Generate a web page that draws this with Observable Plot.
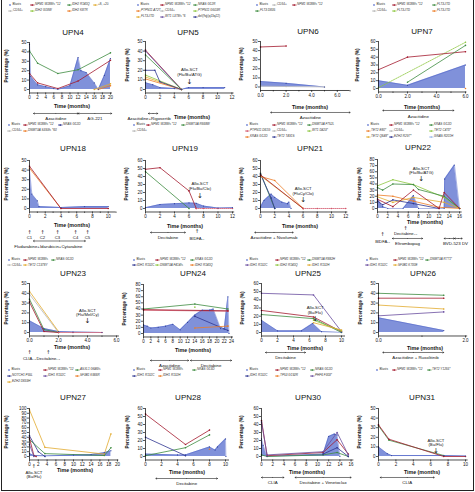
<!DOCTYPE html>
<html><head><meta charset="utf-8">
<script src="https://cdn.jsdelivr.net/npm/d3@7"></script>
<script src="https://cdn.jsdelivr.net/npm/@observablehq/plot@0.6"></script>
<style>
html,body{margin:0;padding:0;background:#fff;}
#fig{position:relative;width:475px;height:492px;overflow:hidden;font-family:"Liberation Sans",Arial,Helvetica,sans-serif;color:#111;}
#frame{position:absolute;left:1px;top:0;width:473px;height:491px;border-left:0.8px solid #222;border-right:0.8px solid #222;border-bottom:0.8px solid #222;box-sizing:border-box;}
.abs{position:absolute;white-space:nowrap;line-height:1;}
.lg{position:absolute;white-space:nowrap;font-size:3.1px;line-height:1;display:flex;align-items:center;color:#333;}
.lg svg{margin-right:0.5px;flex:none;}
</style></head><body><div id="fig"><div id="frame"></div></div>
<script>
const BLUE = "#7285d6";
const COL = {red:"#a31b2f", green:"#3d8b40", lgreen:"#8dc63f", gold:"#e2ab2f", orange:"#ec7c26",
  navy:"#2e3590", purple:"#6a4ea0", gray:"#b8b8b8", lblue:"#9cb8e8", pink:"#d2566a"};
const range = (a,b,s) => { const r=[]; for(let v=a; v<=b+1e-9; v+=s) r.push(+v.toFixed(4)); return r; };

// ---------------- DATA ----------------
// UPN4
const upn4Legend = ["Blasts","NPM1 W288fs *12","IDH2 R140Q","+8, +20","CD34+","IDH2 G18W","IDH2 K87R"];
const upn4Blasts = [[0,48],[0.3,14],[2,5],[4,3],[6,1],[7,0],[10,4],[12,34],[12.7,20],[14,18],[16,7],[17,0],[18.5,15],[20,33]];
const upn4Npm1 = [[0,17],[2,7],[7,1],[12,9],[20,31]];
const upn4Idh2 = [[0,41],[2,28],[7,17],[12,21],[20,39]];
const upn4Trisomy = [[16,0],[20,6]];
const upn4Idh2b = [[17,0],[20,4]];
const upn4Treat = [{label:"Azacitidine",start:1,end:12},{label:"AG-221",start:12,end:20.3}];
// UPN5
const upn5Legend = ["Blasts","NPM1 W288fs *12","NRAS G12R","PTPN11 A72T","CD34+","PTPN11 G503R","FLT3-ITD","WT1 L378fs *6","del(9q)(q13q22)"];
const upn5Blasts = [[0,7],[1,5],[2,2],[4,1],[5,0],[6,2],[8,2],[11,2]];
const upn5Npm1 = [[0,41],[5,0]];
const upn5Wt1 = [[0,40],[5,0]];
const upn5Nras = [[0,36],[5,0]];
const upn5Ptpn11b = [[0,15],[5,0]];
const upn5Flt3 = [[0,13],[5,0]];
const upn5Ptpn11a = [[0,11],[5,0]];
const upn5Del9q = [[0,20],[1.3,20],[2,8],[5,0]];
const upn5Treat = [{label:"Azacitidine+Rigosertib",start:0.4,end:1.7,lx:0.5}];
const upn5Sct = [{label:"Allo-SCT\n(Flu/Bu/ATG)",t:6.1}];
// UPN6
const upn6Legend = ["Blasts","CD34+","NPM1 W288fs *12","FLT3 D835"];
const upn6Blasts = [[0,6],[2,4],[5,0]];
const upn6Npm1 = [[0,44],[2,45]];
const upn6Cd34 = [[0,1],[2,0.5],[5,0]];
const upn6Treat = [{label:"Azacitidine",start:0.8,end:7}];
// UPN7
const upn7Legend = ["Blasts","NPM1 W288fs *12","FLT3-ITD","CD34+","FLT3-ITD","FLT3-ITD"];
const upn7Blasts = [[0,10],[2,4],[6,30]];
const upn7Npm1 = [[0,24],[2,40],[6,47]];
const upn7Flt3a = [[2,8],[6,55]];
const upn7Flt3b = [[0,1],[6,59]];
const upn7Flt3c = [[6,0]];
const upn7Treat = [{label:"Azacitidine",start:0.3,end:5.2}];
// UPN18
const upn18Legend = ["Blasts","NPM1 W288fs *12","NRAS G12D","CD34+","DNMT3A S393fs *60"];
const upn18Blasts = [[0,40],[0.3,15],[1,8],[1.2,2],[4,1],[7,2],[10,2]];
const upn18Npm1 = [[0,44],[4,0],[10,0]];
const upn18Dnmt3a = [[0,42],[4,0]];
const upn18Cycles = [{label:"C1",t:0},{label:"C2",t:1.65},{label:"C3",t:3.56},{label:"C4",t:5.85},{label:"C5",t:7.37}];
const upn18Treat = [{label:"Fludarabine+Idarubicin+Cytarabine",start:0.5,end:7.1,lx:2.4}];
// UPN19
const upn19Legend = ["Blasts","NPM1 W288fs *12","DNMT3A R668W","CD34+"];
const upn19Blasts = [[0,1],[2,5],[4,6],[6,7],[7,6.5],[8,3],[10,0.5],[12,1]];
const upn19Npm1 = [[0,49],[2,51],[6,22],[7,0]];
const upn19Post = [[7,0],[8,0],[10,0],[12,0]];
const upn19Dnmt3a = [[0,46],[6,0]];
const upn19Sct = [{label:"Allo-SCT\n(Flu/Bu/Clo)",t:7.5}];
const upn19Treat = [{label:"Decitabine",start:0.7,end:5.5}];
const upn19Events = [{label:"BIDFA₁₁",t:7.1}];
// UPN21
const upn21Legend = ["Blasts","NPM1 W288fs *12","DNMT3A F752L","PTPN11 D61G","CD34+","WT1 D423*","KRAS G12D","TET2 T491S"];
const upn21Blasts = [[0,2],[0.5,10],[1.5,18],[2,14],[3,8],[3.8,6],[4,8],[4.3,0]];
const upn21Npm1 = [[0,42],[6,0]];
const upn21Dnmt3a = [[0,44],[2,0]];
const upn21Kras = [[0,40],[2,35],[6,0]];
const upn21Ptpn11 = [[0,41],[6,0]];
const upn21Tet2 = [[0,43],[1.5,13],[2,0]];
const upn21Post = [[6,0],[8,0],[10,0],[12,0]];
const upn21Sct = [{label:"Allo-SCT\n(FluCy/Clo)",t:6}];
const upn21Treat = [{label:"Azacitidine + Nivolumab",start:-0.8,end:4.6}];
// UPN22
const upn22Legend = ["Blasts","NPM1 W288fs *12","KRAS G12D","TET2 E80*","CD34+","TET2 C470*","TET2 Q648*","EZH2 R297*","GNAS R201H"];
const upn22Blasts = [[0,16],[1,3],[2,0],[5,0],[7,21],[8,0],[13,0],[13.1,48],[15,71],[16,0]];
const upn22Npm1 = [[0,15],[3,3],[7,30],[12,0],[13,26],[16,0]];
const upn22Kras = [[0,34],[1,30],[3,40],[7,39],[8,31],[13,20],[16,0]];
const upn22Tet2c = [[0,37],[3,47],[7,39],[13,18],[16,0]];
const upn22Tet2e = [[0,22],[3,20],[7,12],[12,2],[16,0]];
const upn22Tet2q = [[0,19],[3,10],[7,18],[13,10],[16,0]];
const upn22Ezh2 = [[0,12],[1,6],[3,14],[7,8],[12,0]];
const upn22Sct = [{label:"Allo-SCT\n(Flu/Bu/ATG)",t:8.5}];
const upn22Events = [{label:"BIDFA₁₁",t:1},{label:"Decitabine₁₋₁",t:5.5}];
const upn22Treat = [{label:"Eltrombopag",start:2.9,end:8.8},{label:"BVD-523 DV",start:13,end:15,lx:15.2},{label:"",start:15,end:16.5}];
// UPN23
const upn23Legend = ["Blasts","NPM1 W288fs","NRAS G12D","CD34+","TET2 C1378Y"];
const upn23Blasts = [[0,12],[1,4],[2,1],[3,0.5],[5,0]];
const upn23Tet2 = [[0,42],[2,1]];
const upn23Cd34 = [[0,39],[2,0]];
const upn23Nras = [[0,34],[1,3],[2,0]];
const upn23Npm1 = [[0,31],[1,1],[2,0]];
const upn23Post = [[2,0],[3,0],[5,0]];
const upn23Sct = [{label:"Allo-SCT\n(Flu/Mel/Cy)",t:4}];
const upn23Events = [{label:"CLIA₁₋₁",t:0},{label:"Decitabine₁₋₁",t:1.3}];
// UPN24
const upn24Legend = ["Blasts","NPM1 W288fs *12","KRAS G12D","IDH1 R132C","DNMT3A F414fs","IDH2 R140Q"];
const upn24Blasts = [[0,14],[1,12],[2,9],[4,10],[6,12],[8,15],[10,6],[12,18],[14,30],[16,38],[18,38],[19,40],[21,8],[22,7],[23,60],[23.3,0]];
const upn24Kras = [[0,40],[14,48],[23,40]];
const upn24Npm1 = [[0,39],[23,37]];
const upn24Npm1b = [[0,38],[23,36.5]];
const upn24Idh1 = [[14,28],[23,5]];
const upn24Idh2 = [[14,9],[23,12]];
const upn24Dnmt3a = [[14,43]];
const upn24Treat = [{label:"Azacitidine",start:1.9,end:12.3},{label:"Decitabine",start:12.8,end:24}];
// UPN25
const upn25Legend = ["Blasts","NPM1 W288fs *12","DNMT3A R882H","IDH1 R132C","IDH2 R140Q","IDH1 R132H"];
const upn25Blasts = [[0,15],[2,2],[5,2],[6.4,11],[7.5,1],[10,0]];
const upn25Idh1 = [[0,48],[6.5,46],[10,1]];
const upn25Npm1 = [[0,27],[6.5,19],[10,1]];
const upn25Dnmt3a = [[0,22],[6.5,17],[10,0]];
const upn25Idh2 = [[6.5,15],[10,2]];
const upn25Idh1b = [[6.5,12],[10,3]];
const upn25Sct = [{label:"Allo-SCT\n(Bu/Flu)",t:6.7}];
const upn25Treat = [{label:"Decitabine",start:0.5,end:5.5}];
// UPN26
const upn26Legend = ["Blasts","NPM1 W288fs *12","DNMT3A R771*","IDH1 R132C","SF3B1 K700E"];
const upn26Blasts = [[0,15],[1.5,2]];
const upn26Dnmt3a = [[0,40],[1.5,38]];
const upn26Npm1 = [[0,35],[1.5,35]];
const upn26Sf3b1 = [[0,28],[1.5,24]];
const upn26Idh1 = [[0,17],[1.5,21]];
const upn26Treat = [{label:"Azacitidine + Ruxolitinib",start:0.1,end:1.5,lx:0.85}];
// UPN27
const upn27Legend = ["Blasts","NPM1 W288fs *12","ASXL1 G646fs","NOTCH1 P55L","IDH1 R132C","SF3B1 K666R","EZH2 D659H"];
const upn27Blasts = [[0,6],[1,2],[3.5,1],[10,3],[14,4],[17,8],[18.5,12]];
const upn27Ezh2 = [[0,97],[3.5,19],[17,5],[18.5,47]];
const upn27Notch1 = [[0,43],[2,10],[3.5,0]];
const upn27Asxl1 = [[0,35],[3.5,6],[17,2],[18.5,18]];
const upn27Npm1 = [[0,38],[1,2],[1.5,0]];
const upn27Idh1 = [[0,25],[1,0]];
const upn27Events = [{label:"Allo-SCT\n(Bu/Flu)",t:1}];
// UPN28
const upn28Legend = ["Blasts","NPM1 W288fs","NRAS G13D","IDH1 R132C","IDH1 R132H"];
const upn28Blasts = [[0,3],[4,2],[5,2],[8,12],[8.7,8],[9,12],[10,22],[10.05,0]];
const upn28Npm1 = [[0,53],[5,15],[8,33]];
const upn28Nras = [[0,1],[5,11],[8,27]];
const upn28Idh1 = [[0,24],[5,1]];
const upn28Idh1b = [[8,9]];
const upn28Treat = [{label:"Decitabine",start:1.3,end:9}];
// UPN30
const upn30Legend = ["Blasts","NPM1 W288fs *12","NRAS G12D","IDH1 R132C","TP53 G192R","PHF6 F303*"];
const upn30Blasts = [[0,22],[0.3,14],[1,0],[11,3],[12,25],[13,28],[13.5,27],[14,0]];
const upn30Npm1 = [[0,45],[1,1],[11,5],[13.5,21],[15.5,3]];
const upn30Phf6 = [[0,43],[1,2],[11,6],[13.5,30],[15.5,2]];
const upn30Idh1 = [[11,3],[13.5,11],[15.5,0]];
const upn30Nras = [[0,2],[1,0],[11,2],[13.5,5],[15.5,0]];
const upn30Treat = [{label:"CLIA",start:0,end:4},{label:"Decitabine + Venetoclax",start:6,end:16}];
// UPN31
const upn31Legend = ["Blasts","NPM1 W288fs *12","TET2 Y1255*"];
const upn31Blasts = [[0,10],[1,3],[1.5,1],[7.5,1],[10,0.5]];
const upn31Npm1 = [[0,33],[1.2,18],[7.5,0],[10,0]];
const upn31Tet2 = [[0,32],[1.2,17],[7.5,1]];
const upn31Sct = [{label:"Allo-SCT\n(Bu/Flu)",t:6.6}];
const upn31Treat = [{label:"CLIA",start:0.2,end:6.4}];

// ---------------- LAYOUT ----------------
const panels = [
 {title:"UPN4", x0:29,k:4.05,xEnd:20.5,yBot:89,yTop:42,yMax:50,xTicks:range(0,20,2),yTicks:range(0,50,10),
  tx:73,ty:33,ylx:7,timeX:72,timeY:106,lgCols:[8,30,67,93],lgY:5,lgDy:6,legend:upn4Legend,
  lgColors:[BLUE,COL.red,COL.green,COL.gold,COL.gray,COL.lgreen,COL.orange],blasts:upn4Blasts,
  series:[{d:upn4Idh2,c:COL.green},{d:upn4Npm1,c:COL.red},{d:upn4Trisomy,c:COL.gold},{d:upn4Idh2b,c:COL.orange}],
  treat:upn4Treat,treatY:113,treatLY:118},
 {title:"UPN5", x0:145,k:7.2,xEnd:12.3,yBot:89,yTop:41,yMax:50,xTicks:range(0,12,2),yTicks:range(0,50,10),
  tx:188,ty:33,ylx:128,timeX:192,timeY:117,lgCols:[136,160,193],lgY:5,lgDy:6,legend:upn5Legend,
  lgColors:[BLUE,COL.red,COL.green,COL.orange,COL.gray,COL.lgreen,COL.gold,COL.purple,COL.navy],blasts:upn5Blasts,
  series:[{d:upn5Npm1,c:COL.red},{d:upn5Wt1,c:COL.purple},{d:upn5Nras,c:COL.green},{d:upn5Ptpn11b,c:COL.lgreen},
   {d:upn5Flt3,c:COL.gold},{d:upn5Ptpn11a,c:COL.orange},{d:upn5Del9q,c:COL.navy}],
  treat:upn5Treat,treatY:113,treatLY:118,sct:upn5Sct,sctLY:71.5,sctAY:81},
 {title:"UPN6", x0:260,k:12.8,xEnd:7,yBot:86.5,yTop:41,yMax:50,xTicks:[0,2,4,6],xMinor:[1,3,5,7],yTicks:range(0,50,10),
  tx:308,ty:32,ylx:242,timeX:310,timeY:107,lgCols:[255,272,292],lgY:5,lgDy:6,legend:upn6Legend,
  lgColors:[BLUE,COL.gray,COL.red,COL.green],blasts:upn6Blasts,
  series:[{d:upn6Cd34,c:COL.gray,dash:"1,1"},{d:upn6Npm1,c:COL.red}],
  treat:upn6Treat,treatY:112,treatLY:117.5},
 {title:"UPN7", x0:378,k:14.5,xEnd:6.1,yBot:88,yTop:41,yMax:60,xTicks:[0,2,4,6],xMinor:[1,3,5],yTicks:range(0,60,10),
  tx:422,ty:32,ylx:358,timeX:422,timeY:107,lgCols:[372,392,432],lgY:5,lgDy:6,legend:upn7Legend,
  lgColors:[BLUE,COL.red,COL.green,COL.gray,COL.lgreen,COL.orange],blasts:upn7Blasts,
  series:[{d:upn7Flt3b,c:COL.lgreen,dash:"1,1"},{d:upn7Npm1,c:COL.red},{d:upn7Flt3a,c:COL.green},{d:upn7Flt3c,c:COL.orange}],
  treat:upn7Treat,treatY:110,treatLY:116},

 {title:"UPN18", x0:29,k:7.87,xEnd:11,yBot:208,yTop:160,yMax:50,xTicks:range(0,10,2),xMinor:[1,3,5,7,9,11],yTicks:range(0,50,10),
  tx:73,ty:149,ylx:7,timeX:72,timeY:224.5,lgCols:[7,23,58],lgY:125,lgDy:6,legend:upn18Legend,
  lgColors:[BLUE,COL.red,COL.navy,COL.gray,COL.orange],blasts:upn18Blasts,
  series:[{d:upn18Dnmt3a,c:COL.orange},{d:upn18Npm1,c:COL.red}],
  events:upn18Cycles,evArrowY:231.5,evLabelY:236.8,
  treat:upn18Treat,treatY:240.5,treatLY:246},
 {title:"UPN19", x0:145,k:7.25,xEnd:12.3,yBot:208,yTop:160,yMax:60,xTicks:range(0,12,2),yTicks:range(0,60,10),
  tx:185,ty:149,ylx:127,timeX:185,timeY:226,lgCols:[132,146,181],lgY:125,lgDy:6,legend:upn19Legend,
  lgColors:[BLUE,COL.red,COL.green,COL.gray],blasts:upn19Blasts,
  series:[{d:upn19Dnmt3a,c:COL.green},{d:upn19Npm1,c:COL.red},{d:upn19Post,c:COL.pink,dash:"1,1"}],
  sct:upn19Sct,sctLY:185.5,sctAY:195,
  treat:upn19Treat,treatY:232,treatLY:237.5,events:upn19Events,evArrowY:231,evLabelY:238.5},
 {title:"UPN21", x0:260,k:7.1,xEnd:12.3,yBot:208,yTop:160,yMax:60,xTicks:range(0,12,2),yTicks:range(0,60,10),
  tx:310,ty:149,ylx:242,timeX:300,timeY:226,lgCols:[245,272,307],lgY:125,lgDy:6,legend:upn21Legend,
  lgColors:[BLUE,COL.red,COL.green,COL.pink,COL.gray,COL.lgreen,COL.orange,COL.navy],blasts:upn21Blasts,
  series:[{d:upn21Dnmt3a,c:COL.green},{d:upn21Tet2,c:COL.navy},{d:upn21Ptpn11,c:COL.gold},{d:upn21Kras,c:COL.orange},
   {d:upn21Npm1,c:COL.red},{d:upn21Post,c:COL.pink,dash:"1,1"}],
  sct:upn21Sct,sctLY:190.5,sctAY:199,
  treat:upn21Treat,treatY:232,treatLY:237.5},
 {title:"UPN22", x0:377,k:5.13,xEnd:16.5,yBot:208,yTop:159,yMax:80,xTicks:range(0,16,2),yTicks:range(0,80,10),
  tx:418,ty:148,ylx:360,timeX:425,timeY:222,lgCols:[366,389,429],lgY:125,lgDy:6,legend:upn22Legend,
  lgColors:[BLUE,COL.red,COL.green,COL.orange,COL.gray,COL.lgreen,COL.gold,COL.navy,COL.lblue],blasts:upn22Blasts,
  series:[{d:upn22Tet2c,c:COL.lgreen},{d:upn22Kras,c:COL.green},{d:upn22Tet2e,c:COL.orange},{d:upn22Tet2q,c:COL.gold},
   {d:upn22Ezh2,c:COL.navy},{d:upn22Npm1,c:COL.red}],
  sct:upn22Sct,sctLY:170,sctAY:178.5,
  events:upn22Events,evPos:[[234,241.5],[227.5,233]],
  treat:upn22Treat,treatY:238,treatLY:243.5},

 {title:"UPN23", x0:29,k:14.5,xEnd:6.2,yBot:332,yTop:283,yMax:50,xTicks:[0,2,4,6],xMinor:[1,3,5],yTicks:range(0,50,10),
  tx:73,ty:274,ylx:7,timeX:72,timeY:347,lgCols:[7,23,51],lgY:260,lgDy:5.2,legend:upn23Legend,
  lgColors:[BLUE,COL.red,COL.green,COL.gray,COL.gold],blasts:upn23Blasts,
  series:[{d:upn23Cd34,c:COL.gray},{d:upn23Tet2,c:COL.gold},{d:upn23Nras,c:COL.green},{d:upn23Npm1,c:COL.red},{d:upn23Post,c:COL.pink,dash:"1,1"}],
  sct:upn23Sct,sctLY:312,sctAY:320.5,
  events:upn23Events,evArrowY:352,evLabelY:358.5},
 {title:"UPN24", x0:143,k:3.67,xEnd:24.5,yBot:333,yTop:284,yMax:80,xTicks:range(0,24,2),yTicks:range(0,80,10),
  tx:193,ty:274,ylx:125,timeX:193,timeY:350,lgCols:[132,155,190],lgY:260,lgDy:5.2,legend:upn24Legend,
  lgColors:[BLUE,COL.red,COL.green,COL.navy,COL.lgreen,COL.orange],blasts:upn24Blasts,
  series:[{d:upn24Kras,c:COL.green},{d:upn24Npm1b,c:COL.pink},{d:upn24Npm1,c:COL.red},{d:upn24Idh1,c:COL.navy},
   {d:upn24Idh2,c:COL.orange},{d:upn24Dnmt3a,c:COL.lgreen}],
  treat:upn24Treat,treatY:360,treatLY:365.5},
 {title:"UPN25", x0:261,k:8,xEnd:10.5,yBot:332,yTop:283,yMax:60,xTicks:range(0,10,2),yTicks:range(0,60,10),
  tx:308,ty:274,ylx:243,timeX:305,timeY:348,lgCols:[245,275,307],lgY:260,lgDy:5.2,legend:upn25Legend,
  lgColors:[BLUE,COL.red,COL.green,COL.purple,COL.lgreen,COL.gold],blasts:upn25Blasts,
  series:[{d:upn25Idh1,c:COL.purple},{d:upn25Npm1,c:COL.red},{d:upn25Dnmt3a,c:COL.green},{d:upn25Idh2,c:COL.lgreen},{d:upn25Idh1b,c:COL.gold}],
  sct:upn25Sct,sctLY:309.5,sctAY:318,
  treat:upn25Treat,treatY:352,treatLY:357.5},
 {title:"UPN26", x0:378,k:43.5,xEnd:2.05,yBot:332,yTop:283,yMax:50,xTicks:[0,2],xMinor:[1],yTicks:range(0,50,10),
  tx:423,ty:274,ylx:361,timeX:425,timeY:348,lgCols:[365,393,425],lgY:260,lgDy:5.2,legend:upn26Legend,
  lgColors:[BLUE,COL.red,COL.green,COL.purple,COL.gold],blasts:upn26Blasts,
  series:[{d:upn26Dnmt3a,c:COL.green},{d:upn26Npm1,c:COL.red},{d:upn26Sf3b1,c:COL.gold},{d:upn26Idh1,c:COL.purple}],
  treat:upn26Treat,treatY:352,treatLY:357.5},

 {title:"UPN27", x0:29,k:4.4,xEnd:20.3,yBot:456,yTop:408,yMax:100,xTicks:range(0,20,2),yTicks:range(0,100,10),
  tx:73,ty:398,ylx:7,timeX:75,timeY:470,lgCols:[7,43,75],lgY:370,lgDy:6,legend:upn27Legend,
  lgColors:[BLUE,COL.red,COL.green,COL.navy,COL.purple,COL.orange,COL.gold],blasts:upn27Blasts,
  series:[{d:upn27Ezh2,c:COL.gold},{d:upn27Notch1,c:COL.navy},{d:upn27Asxl1,c:COL.green},{d:upn27Npm1,c:COL.red},{d:upn27Idh1,c:COL.purple}],
  events:upn27Events,evArrowY:466,evLabelY:474},
 {title:"UPN28", x0:145,k:8,xEnd:10.5,yBot:456,yTop:408,yMax:60,xTicks:range(0,10,2),yTicks:range(0,60,10),
  tx:188,ty:398,ylx:128,timeX:187,timeY:472,lgCols:[132,158,192],lgY:370,lgDy:6,legend:upn28Legend,
  lgColors:[BLUE,COL.red,COL.green,COL.navy,COL.orange],blasts:upn28Blasts,
  series:[{d:upn28Npm1,c:COL.red},{d:upn28Nras,c:COL.green},{d:upn28Idh1,c:COL.navy},{d:upn28Idh1b,c:COL.orange}],
  treat:upn28Treat,treatY:478,treatLY:483},
 {title:"UPN30", x0:261,k:5.6,xEnd:16.5,yBot:456,yTop:408,yMax:60,xTicks:range(0,16,2),yTicks:range(0,60,10),
  tx:308,ty:398,ylx:242,timeX:307,timeY:472,lgCols:[245,275,310],lgY:370,lgDy:6,legend:upn30Legend,
  lgColors:[BLUE,COL.red,COL.green,COL.navy,COL.orange,COL.purple],blasts:upn30Blasts,
  series:[{d:upn30Nras,c:COL.green},{d:upn30Idh1,c:COL.navy},{d:upn30Npm1,c:COL.red},{d:upn30Phf6,c:COL.purple}],
  treat:upn30Treat,treatY:477,treatLY:482.5},
 {title:"UPN31", x0:378,k:8.7,xEnd:10.3,yBot:456,yTop:408,yMax:50,xTicks:range(0,10,2),yTicks:range(0,50,10),
  tx:422,ty:398,ylx:360,timeX:422,timeY:472,lgCols:[375,392,427],lgY:370,lgDy:6,legend:upn31Legend,
  lgColors:[BLUE,COL.red,COL.green],blasts:upn31Blasts,
  series:[{d:upn31Tet2,c:COL.green},{d:upn31Npm1,c:COL.red}],
  sct:upn31Sct,sctLY:442,sctAY:450,
  treat:upn31Treat,treatY:477,treatLY:482.5}
];

// ---------------- DRAW ----------------
const fig = document.getElementById("fig");
const FONT = "'Liberation Sans', Arial, Helvetica, sans-serif";

function addText(txt, x, y, css, transform) {
  const d = document.createElement("div");
  d.className = "abs";
  d.textContent = txt;
  d.style.left = x + "px";
  d.style.top = y + "px";
  d.style.transform = "translate(-50%,-50%)" + (transform || "");
  Object.assign(d.style, css || {});
  fig.appendChild(d);
}

function drawLegend(p) {
  const n = p.lgCols.length;
  p.legend.forEach((label, i) => {
    const col = i % n, row = Math.floor(i / n);
    const c = p.lgColors[i];
    const d = document.createElement("div");
    d.className = "lg";
    d.style.left = p.lgCols[col] + "px";
    d.style.top = (p.lgY + row * p.lgDy - 2) + "px";
    const plain = label === "Blasts" || label === "CD34+" || /^[+d]/.test(label);
    const marker = label === "Blasts"
      ? `<svg width="4" height="4"><circle cx="2" cy="2" r="0.9" fill="${c}"/></svg>`
      : `<svg width="4.5" height="4"><line x1="0" y1="2" x2="4.5" y2="2" stroke="${c}" stroke-width="0.8"/><circle cx="2.25" cy="2" r="0.85" fill="${c}"/></svg>`;
    d.innerHTML = marker + `<span style="font-style:${plain ? "normal" : "italic"}">${label}</span>`;
    fig.appendChild(d);
  });
}

function drawPanel(p) {
  const ML = 16, MR = 4, MT = 3, MB = 46, IB = 3.5;
  const fw = p.k * p.xEnd, fh = p.yBot - p.yTop;
  const X = d => d[0], Y = d => d[1];
  const base = p.yBot;
  const m = [];
  m.push(Plot.areaY(p.blasts, {x: X, y: Y, fill: BLUE, fillOpacity: 0.9}));
  m.push(Plot.line(p.blasts, {x: X, y: Y, stroke: "#4a5fc4", strokeWidth: 0.45}));
  for (const s of p.series) {
    if (s.d.length > 1) {
      const o = {x: X, y: Y, stroke: s.c, strokeWidth: 0.8};
      if (s.dash) o.strokeDasharray = s.dash;
      m.push(Plot.line(s.d, o));
    }
    m.push(Plot.dot(s.d, {x: X, y: Y, r: 0.8, fill: s.c}));
  }
  m.push(Plot.dot(p.blasts, {x: X, y: Y, r: 0.6, fill: "#32439c"}));
  // axes
  m.push(Plot.ruleX([0], {stroke: "#000", strokeWidth: 0.7}));
  m.push(Plot.ruleY([0], {dy: IB, stroke: "#000", strokeWidth: 0.7}));
  m.push(Plot.axisY({ticks: p.yTicks, tickSize: 2, tickPadding: 1, label: null, strokeWidth: 0.7}));
  m.push(Plot.axisX({ticks: p.xTicks, tickSize: 2, tickPadding: 1, label: null, strokeWidth: 0.7}));
  if (p.xMinor) m.push(Plot.axisX({ticks: p.xMinor, tickSize: 1.5, tickFormat: () => "", label: null, strokeWidth: 0.6}));
  // treatments: double-headed arrows
  if (p.treat) {
    const mid = d => (d.start + d.end) / 2;
    const ao = {y1: 0, y2: 0, dy: p.treatY - base, stroke: "#222", strokeWidth: 0.6, headLength: 2.6, headAngle: 70};
    m.push(Plot.arrow(p.treat, {...ao, x1: mid, x2: "start"}));
    m.push(Plot.arrow(p.treat, {...ao, x1: mid, x2: "end"}));
    m.push(Plot.text(p.treat.filter(d => d.label), {x: d => d.lx ?? mid(d), y: 0, dy: p.treatLY - base, text: "label", fontSize: 4.4}));
  }
  if (p.events) {
    p.events.forEach((e, i) => {
      const pos = p.evPos ? p.evPos[i] : [p.evArrowY, p.evLabelY];
      m.push(Plot.text([e], {x: "t", y: 0, dy: pos[0] - base, text: () => "↑", fontSize: 5, fontFamily: "DejaVu Sans"}));
      m.push(Plot.text([e], {x: "t", y: 0, dy: pos[1] - base, text: "label", fontSize: 4.2, lineHeight: 1.1}));
    });
  }
  if (p.sct) {
    m.push(Plot.text(p.sct, {x: "t", y: 0, dy: p.sctLY - base, text: "label", fontSize: 4.2, lineHeight: 1.1}));
    m.push(Plot.text(p.sct, {x: "t", y: 0, dy: p.sctAY - base, text: () => "↓", fontSize: 7, fontFamily: "DejaVu Sans"}));
  }
  const svg = Plot.plot({
    width: fw + ML + MR, height: fh + MT + MB + IB,
    marginLeft: ML, marginRight: MR, marginTop: MT, marginBottom: MB,
    x: {domain: [0, p.xEnd]},
    y: {domain: [0, p.yMax], insetBottom: IB},
    style: {background: "transparent", overflow: "visible", fontFamily: FONT, fontSize: "4.5px", color: "#111"},
    marks: m
  });
  svg.style.position = "absolute";
  svg.style.left = (p.x0 - ML) + "px";
  svg.style.top = (p.yTop - MT) + "px";
  svg.style.maxWidth = "none";
  fig.appendChild(svg);

  addText(p.title, p.tx, p.ty, {fontSize: "8px"});
  addText("Percentage (%)", p.ylx, (p.yTop + p.yBot) / 2, {fontSize: "5.4px", fontWeight: "bold"}, " rotate(-90deg) scaleX(0.85)");
  addText("Time (months)", p.timeX, p.timeY, {fontSize: "6.2px", fontWeight: "bold"}, " scaleX(0.85)");
  drawLegend(p);
}

panels.forEach(drawPanel);
</script></body></html>
